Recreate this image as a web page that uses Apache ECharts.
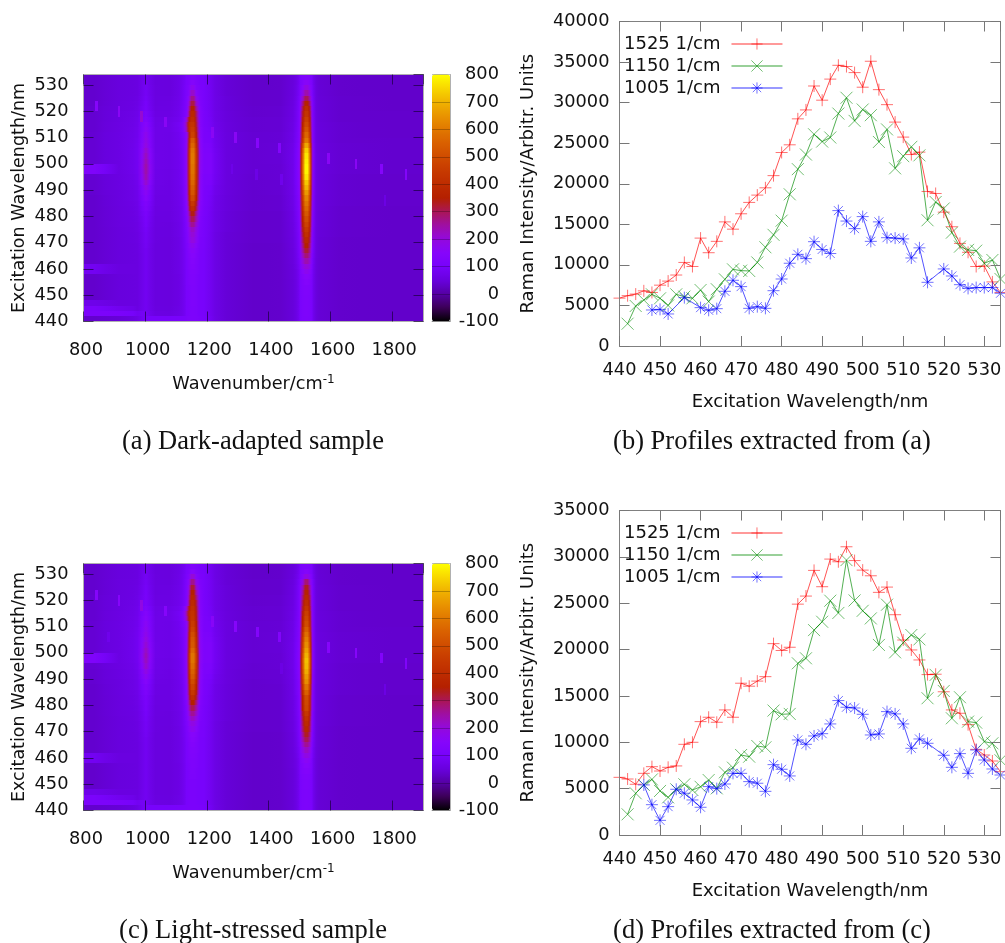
<!DOCTYPE html>
<html>
<head>
<meta charset="utf-8">
<title>Raman excitation profiles</title>
<style>
  html, body { margin: 0; padding: 0; background: #fff; }
  #main { width: 1005px; height: 943px; }
</style>
<script src="https://cdn.jsdelivr.net/npm/echarts@6/dist/echarts.min.js"></script>
</head>
<body>
<div id="main"></div>
<script>
// profile data (b) and (d)
const profileNm = [440,442,444,446,448,450,452,454,456,458,460,462,464,466,468,470,472,474,476,478,480,482,484,486,488,490,492,494,496,498,500,502,504,506,508,510,512,514,516,518,520,522,524,526,528,530,532,534];
const red1525b = [5900,6200,6400,6800,6600,7500,8000,8750,10300,9800,13300,11500,12900,15300,14400,16300,17700,18600,19500,21000,23850,24800,28000,29100,32050,30300,32900,34600,34450,33700,31900,35100,31600,29750,27600,25750,23600,23900,19050,18800,16500,14700,12650,11550,9800,9850,7900,6600];
const green1150b = [null,2750,4930,5670,6370,5880,5000,6370,6080,5880,6900,5470,7000,8220,9450,9290,9250,10300,12170,13700,15450,18700,21800,23600,26100,25200,25700,28650,30600,27750,29150,28450,25150,26700,21900,23400,24550,23500,15500,17750,16950,13970,12250,11850,11750,10200,10600,8260];
const blue1005b = [null,null,null,null,4440,4520,3950,null,5960,null,4730,4400,4600,6740,8100,7320,4640,4850,4640,6820,8260,10200,11300,10770,12860,11900,11400,16690,15400,14470,15950,12900,15300,13350,13300,13200,10850,12100,7850,null,9500,8630,7560,7100,7200,7200,7200,6500];
const red1525d = [6220,6040,5470,6650,7370,6900,7300,7450,9780,10000,12230,12700,12160,13490,12700,16370,16050,16600,17080,20640,19900,20250,24900,25770,28540,26780,29760,29470,31090,29600,28570,27960,26170,26740,23760,21030,19960,18880,17300,17340,15450,13490,13130,11900,9240,8630,7980,6830];
const green1150d = [null,2230,4500,5400,6000,4750,4060,4930,5470,4850,5200,5930,5030,6760,7260,8630,8450,9600,9460,13420,13020,13060,18520,19060,22100,23000,25270,23950,29650,25300,24180,23360,20500,24840,19700,20740,21570,21100,14750,17270,15540,12590,14860,12230,12120,10070,9890,8060];
const blue1005d = [null,null,null,5400,3270,1580,3060,4930,4500,3780,2990,5220,5000,5500,6650,6650,5760,5580,4710,7590,7090,6370,10250,9780,10680,10930,11980,14500,13780,13700,13020,10790,10900,13310,13060,11980,9350,10360,9890,null,8600,7300,8780,6650,9170,8090,7120,6470];
const seriesNames = ['1525 1/cm', '1150 1/cm', '1005 1/cm'];
const seriesColors = ['#ff0000', '#008a00', '#0000ff'];

// heat map cells: column edges in 1/cm, row start wavelengths in nm (each row spans 2 nm)
const columnEdges = [800,870,960,990,1015,1050,1110,1128,1138,1146,1154,1162,1170,1180,1200,1225,1300,1400,1480,1498,1506,1514,1522,1530,1538,1546,1565,1700,1903];
const rowNm = [440,442,444,446,448,450,452,454,456,458,460,462,464,466,468,470,472,474,476,478,480,482,484,486,488,490,492,494,496,498,500,502,504,506,508,510,512,514,516,518,520,522,524,526,528,530,532];

const heatA = [
  [36,45,65,100,100,100,105,110,115,118,118,115,110,105,85,46,34,36,60,103,113,118,118,114,104,52,36,34],
  [115,110,85,90,60,57,72,102,112,118,118,113,104,100,80,46,34,36,60,103,113,120,120,114,104,52,36,34],
  [110,80,60,85,55,54,72,102,112,118,118,113,104,100,80,46,34,36,60,103,113,120,120,114,104,52,36,34],
  [70,55,57,85,53,52,72,102,112,120,120,113,104,100,80,46,34,36,60,103,113,120,120,114,104,52,36,34],
  [36,50,55,85,53,52,72,102,112,120,120,113,104,100,80,46,34,36,60,103,113,122,122,115,104,52,36,34],
  [36,50,55,85,53,52,72,102,112,120,120,113,104,100,80,46,34,36,60,104,116,125,125,118,105,52,36,34],
  [36,50,55,85,53,52,72,102,112,120,120,113,104,100,80,46,34,36,60,105,120,130,130,121,106,52,36,34],
  [36,50,55,85,53,52,72,103,115,125,125,116,105,100,80,46,34,36,60,106,126,140,140,128,108,52,36,34],
  [36,50,55,85,53,52,72,103,115,125,125,116,105,100,80,46,34,36,62,108,132,150,150,135,110,52,36,34],
  [85,55,55,85,53,52,74,104,118,130,130,120,106,100,80,46,34,36,62,110,145,170,170,149,114,52,36,34],
  [85,55,55,85,53,52,74,105,120,135,135,122,107,100,80,46,34,36,65,115,165,200,200,170,120,54,36,34],
  [38,50,55,85,53,52,74,105,124,140,140,126,108,100,80,46,34,36,68,121,191,240,240,198,128,54,36,34],
  [38,50,55,85,53,52,74,106,127,145,145,130,109,100,80,46,34,36,70,127,217,280,280,226,136,55,36,34],
  [38,50,57,85,53,52,74,108,134,155,155,136,111,100,80,46,34,36,72,133,243,320,320,254,144,55,36,34],
  [38,50,57,88,53,52,76,110,142,170,170,145,114,102,82,46,34,36,74,138,262,350,350,275,150,55,36,34],
  [38,50,59,90,55,52,76,114,157,195,195,162,119,102,82,46,36,38,76,142,282,380,380,296,156,56,36,34],
  [38,50,59,92,55,54,78,116,165,205,205,170,122,104,82,46,36,38,78,146,301,410,410,317,162,56,38,34],
  [38,50,61,95,55,54,79,118,172,220,220,178,124,104,84,48,36,38,80,151,321,440,440,338,168,56,38,34],
  [38,52,61,100,57,54,79,124,196,260,260,204,132,105,84,48,36,38,82,155,340,470,470,359,174,58,38,34],
  [38,52,63,105,57,56,80,130,220,300,300,230,140,105,85,48,36,38,85,160,360,500,500,380,180,58,38,34],
  [38,52,65,110,59,56,82,136,244,340,340,256,148,108,85,48,36,38,86,165,380,530,530,401,186,58,38,34],
  [38,52,67,120,59,58,82,145,280,400,400,295,160,108,86,50,38,40,88,169,399,560,560,422,192,60,38,34],
  [38,54,69,130,61,58,84,152,304,440,440,322,168,110,88,50,38,40,90,174,418,590,590,443,198,60,40,36],
  [38,54,71,145,61,60,84,158,334,490,490,353,178,112,90,50,38,40,92,178,438,620,620,464,204,60,40,36],
  [40,54,73,160,63,60,86,163,352,520,520,373,184,112,95,52,38,42,95,184,464,660,660,492,212,62,40,36],
  [40,56,75,185,65,62,86,166,364,540,540,386,188,114,100,52,40,42,95,190,490,700,700,520,220,62,40,36],
  [40,56,77,215,67,62,88,170,376,560,560,400,192,115,110,52,40,42,98,195,510,730,730,541,226,62,40,36],
  [42,58,80,240,69,64,89,172,388,580,580,412,196,115,115,54,40,44,100,200,535,770,770,569,234,64,40,36],
  [125,60,83,250,70,64,89,174,394,590,590,418,198,120,120,54,42,44,100,204,549,790,790,583,238,64,42,38],
  [125,60,85,250,71,66,90,174,394,590,590,418,198,120,120,54,42,44,100,204,549,790,790,583,238,64,42,38],
  [42,60,85,240,71,66,90,175,400,600,600,425,200,120,120,54,42,46,100,202,542,780,780,576,236,64,42,38],
  [42,60,85,230,71,66,92,175,400,600,600,425,200,120,120,54,42,46,100,200,535,770,770,569,234,64,42,38],
  [42,60,85,215,70,66,92,174,394,590,590,418,198,118,115,54,42,46,98,196,516,740,740,548,228,62,42,38],
  [42,60,83,195,70,66,94,170,376,560,560,400,192,115,110,54,42,46,95,188,480,680,680,506,216,62,42,38],
  [42,60,81,185,69,66,94,166,358,530,530,380,186,112,105,54,42,44,90,175,425,600,600,450,200,60,40,38],
  [42,60,79,175,69,66,96,165,330,470,470,340,174,112,100,54,42,44,88,169,399,560,560,422,192,60,40,36],
  [40,58,77,160,69,68,104,235,390,450,450,325,170,110,95,52,40,42,86,163,372,520,520,394,184,60,40,36],
  [40,58,75,150,67,68,108,250,395,430,430,310,166,108,90,52,40,42,85,158,353,490,490,373,178,58,40,36],
  [40,56,73,130,65,66,95,210,345,400,400,295,160,108,88,50,40,42,82,154,334,460,460,352,172,58,38,36],
  [40,56,70,115,61,62,90,135,275,380,380,282,156,106,86,50,38,40,80,150,315,430,430,331,166,58,38,36],
  [40,54,67,105,59,60,88,130,245,350,350,250,150,105,85,48,38,40,78,145,295,400,400,310,160,56,38,34],
  [38,54,63,100,57,58,86,125,205,310,310,210,140,105,85,48,36,38,75,138,260,360,360,272,150,56,38,34],
  [38,52,61,95,57,56,85,120,170,265,265,175,130,104,84,48,36,38,72,130,215,300,300,225,138,55,38,34],
  [38,52,59,90,55,54,84,115,145,215,215,150,122,104,84,46,36,38,68,120,175,240,240,182,128,55,36,34],
  [38,50,57,88,55,52,82,110,128,170,170,130,114,102,82,46,34,36,64,112,145,190,190,148,118,54,36,34],
  [38,50,57,85,53,52,80,106,118,140,140,120,108,100,80,46,34,36,62,108,128,155,155,130,112,52,36,34],
  [38,50,55,85,53,52,74,103,110,122,122,112,104,100,80,46,34,36,60,104,114,125,125,115,105,52,36,34]
];

const heatC = [
  [36,45,63,100,100,100,105,108,112,112,112,110,108,105,85,46,34,36,60,103,113,118,118,114,104,52,36,34],
  [115,110,85,90,60,57,72,100,108,112,112,108,102,100,80,46,34,36,60,103,113,118,118,114,104,52,36,34],
  [110,80,60,85,55,54,72,100,108,112,112,108,102,100,80,46,34,36,60,103,113,118,118,114,104,52,36,34],
  [70,55,57,85,53,52,72,100,108,112,112,108,102,100,80,46,34,36,60,103,113,118,118,114,104,52,36,34],
  [36,50,55,85,53,52,72,100,108,112,112,108,102,100,80,46,34,36,60,103,113,120,120,114,104,52,36,34],
  [36,50,55,85,53,52,72,100,108,112,112,108,102,100,80,46,34,36,60,103,114,122,122,115,104,52,36,34],
  [36,50,55,85,53,52,72,100,110,115,115,110,102,100,80,46,34,36,60,104,118,125,125,118,105,52,36,34],
  [36,50,55,85,53,52,72,100,110,118,118,112,103,100,80,46,34,36,60,106,124,135,135,126,107,52,36,34],
  [36,50,55,85,53,52,72,101,112,120,120,114,104,100,80,46,34,36,62,107,130,145,145,132,109,52,36,34],
  [85,55,55,85,53,52,74,102,114,122,122,116,105,100,80,46,34,36,62,109,139,160,160,142,112,52,36,34],
  [85,55,55,85,53,52,74,103,115,125,125,118,105,100,80,46,34,36,64,113,158,190,190,163,118,54,36,34],
  [38,50,55,85,53,52,74,103,117,130,130,120,106,100,80,46,34,36,66,118,178,220,220,184,124,54,36,34],
  [38,50,55,85,53,52,74,104,120,135,135,122,107,100,80,46,34,36,68,124,204,260,260,212,132,55,36,34],
  [38,50,57,85,53,52,74,105,125,142,142,128,108,100,80,46,34,36,70,130,230,300,300,240,140,55,36,34],
  [38,50,57,88,53,52,76,107,130,150,150,135,110,102,82,46,34,36,72,135,250,330,330,261,146,55,36,34],
  [38,50,59,90,55,52,76,110,142,170,170,149,114,102,82,46,36,38,75,140,276,370,370,289,154,56,36,34],
  [38,50,59,92,55,54,78,114,154,190,190,163,118,104,82,46,36,38,76,144,289,390,390,303,158,56,38,34],
  [38,50,61,95,55,54,79,118,172,220,220,184,124,104,84,48,36,38,78,146,301,410,410,317,162,56,38,34],
  [38,52,61,98,57,54,79,124,196,260,260,212,132,104,84,48,36,38,80,151,321,440,440,338,168,56,38,34],
  [38,52,63,102,57,56,80,130,220,300,300,240,140,105,85,48,36,38,82,157,347,480,480,366,176,58,38,34],
  [38,52,65,106,59,56,82,137,250,350,350,275,150,108,85,48,36,38,82,159,354,490,490,373,178,58,38,34],
  [38,52,67,112,59,58,82,145,280,400,400,310,160,108,86,50,38,40,85,160,360,500,500,380,180,60,38,34],
  [38,54,69,120,61,58,84,150,304,440,440,338,168,110,88,50,38,40,88,169,392,550,550,415,190,60,40,36],
  [38,54,71,130,61,60,84,155,322,470,470,359,174,112,90,50,38,40,90,174,418,590,590,443,198,60,40,36],
  [40,54,73,145,63,60,86,160,340,500,500,380,180,112,95,52,38,42,92,181,451,640,640,478,208,62,40,36],
  [40,56,75,165,65,62,86,164,358,530,530,401,186,114,100,52,40,42,94,184,464,660,660,492,212,62,40,36],
  [40,56,77,190,67,62,88,168,370,550,550,415,190,115,110,52,40,42,96,188,484,690,690,513,218,62,40,36],
  [42,58,80,215,69,64,89,170,382,570,570,429,194,115,115,54,40,44,98,192,496,710,710,527,222,64,40,36],
  [125,60,83,230,70,64,89,172,394,590,590,443,198,120,120,54,42,44,100,194,502,720,720,534,224,64,42,38],
  [125,60,85,235,71,66,90,172,394,590,590,443,198,120,120,54,42,44,100,190,490,700,700,520,220,64,42,38],
  [42,60,85,225,71,66,90,168,376,560,560,422,192,120,120,54,42,46,98,185,470,670,670,499,214,64,42,38],
  [42,60,85,210,71,66,92,165,358,530,530,401,186,120,120,54,42,46,96,181,451,640,640,478,208,64,42,38],
  [42,60,85,195,70,66,92,163,352,520,520,394,184,118,115,54,42,46,94,177,432,610,610,457,202,62,42,38],
  [42,60,83,180,70,66,94,160,340,500,500,380,180,115,110,54,42,46,92,172,412,580,580,436,196,62,42,38],
  [42,60,81,170,69,66,94,155,322,470,470,359,174,112,105,54,42,44,90,166,386,540,540,408,188,60,40,38],
  [42,60,79,160,69,66,96,160,310,450,450,345,170,112,100,54,42,44,88,160,360,500,500,380,180,60,40,36],
  [40,58,77,150,69,68,104,230,360,430,430,331,166,110,95,52,40,42,86,157,347,480,480,366,176,60,40,36],
  [40,58,75,140,67,68,108,250,380,420,420,324,164,108,90,52,40,42,84,154,334,460,460,352,172,58,40,36],
  [40,56,73,125,65,66,95,210,340,410,410,317,162,108,88,50,40,42,82,150,314,430,430,331,166,58,38,36],
  [40,56,70,112,61,62,86,135,274,390,390,303,158,106,86,50,38,40,80,145,295,400,400,310,160,58,38,36],
  [40,54,67,104,59,60,84,130,250,370,370,270,154,105,85,48,38,40,78,142,270,380,380,285,156,56,38,34],
  [38,54,63,100,57,58,82,127,225,350,350,240,150,105,85,48,36,38,76,139,250,360,360,262,152,56,38,34],
  [38,52,61,95,57,56,80,124,195,320,320,205,140,104,84,48,36,38,74,132,225,330,330,235,146,55,38,34],
  [38,52,59,90,55,54,79,118,165,265,265,175,130,104,84,46,36,38,70,122,185,280,280,192,136,55,36,34],
  [38,50,57,88,55,52,78,112,135,205,205,142,119,102,82,46,34,36,65,110,140,190,190,145,118,54,36,34],
  [38,50,57,85,53,52,76,104,118,148,148,122,110,100,80,46,34,36,62,105,120,140,140,122,108,52,36,34],
  [38,50,55,85,53,52,74,103,112,125,125,114,105,100,80,46,34,36,60,103,113,120,120,114,104,52,36,34]
];

// isolated spikes: wavenumber, wavelength, level
const spikesA = [[843,522,150],[915,520,160],[987,518,210],[1066,516,160],[1218,512,160],[1292,510,160],[1364,508,150],[1437,506,140],[1596,502,160],[1684,500,160],[1766,498,145],[1846,496,140],[1778,486,62],[1443,494,75],[1362,496,65],[1282,498,70]];
const spikesC = [[843,522,145],[915,520,150],[987,518,190],[1066,516,150],[1218,512,155],[1292,510,150],[1364,508,140],[1437,506,135],[1596,502,150],[1684,500,150],[1766,498,135],[1846,496,130],[1778,486,62],[1443,494,62],[880,506,75]];

// gnuplot rgbformulae 7,5,15 sampled every 50 units from -100 to 800
const paletteStops = ['#000000','#3c0057','#5500a4','#6801dd','#7803fb','#8605fb','#9309dd','#9f0fa4','#aa1657','#b42000','#be2c00','#c73a00','#d04c00','#d96000','#e17800','#e99400','#f0b300','#f8d700','#ffff00'];

const SPIKE_W = 4.5, SPIKE_H = 2;
const FONT = 'DejaVu Sans';
const TEXT = '#111';

function levelColor(v) {
  return echarts.color.lerp((v + 100) / 900, paletteStops);
}

// each cell also carries the levels at its left and right edge, so the fill blends across columns
function heatCells(matrix, spikes) {
  const cells = [];
  rowNm.forEach((nm, r) => {
    const row = matrix[r];
    row.forEach((v, c) => {
      const l = c > 0 ? (row[c - 1] + v) / 2 : v;
      const e = c < row.length - 1 ? (row[c + 1] + v) / 2 : v;
      cells.push([columnEdges[c], columnEdges[c + 1], nm, nm + 2, v, l, e]);
    });
  });
  spikes.forEach(s => {
    cells.push([s[0] - SPIKE_W, s[0] + SPIKE_W, s[1] - SPIKE_H, s[1] + SPIKE_H, s[2], s[2], s[2]]);
  });
  return cells;
}

function renderCell(params, api) {
  const a = api.coord([api.value(0), api.value(3)]);
  const b = api.coord([api.value(1), api.value(2)]);
  const x0 = Math.round(a[0]), x1 = Math.round(b[0]);
  const y0 = Math.round(a[1]), y1 = Math.round(b[1]);
  return {
    type: 'rect',
    shape: { x: x0, y: y0, width: Math.max(x1 - x0, 1), height: Math.max(y1 - y0, 1) },
    style: {
      fill: new echarts.graphic.LinearGradient(0, 0, 1, 0, [
        { offset: 0, color: levelColor(api.value(5)) },
        { offset: 0.5, color: api.visual('color') },
        { offset: 1, color: levelColor(api.value(6)) }
      ])
    }
  };
}

// panel frames
const heatBoxes = [
  { left: 83.5, top: 74.5, width: 340, height: 247 },
  { left: 83.5, top: 563.5, width: 340, height: 247 }
];
const barBoxes = [
  { left: 432, top: 74.5, width: 18, height: 247 },
  { left: 432, top: 563.5, width: 18, height: 247 }
];
const profileBoxes = [
  { left: 619.5, top: 21.5, width: 381, height: 324.5 },
  { left: 619.5, top: 510.5, width: 381, height: 324.5 }
];
const legendTops = [35, 524];

const plainNumber = v => String(v);

const option = {
  animation: false,
  backgroundColor: '#fff',
  textStyle: { fontFamily: FONT },
  grid: [],
  xAxis: [],
  yAxis: [],
  series: [],
  visualMap: [],
  legend: [],
  title: [
    ['(a) Dark-adapted sample', 253, 429],
    ['(b) Profiles extracted from (a)', 772, 429],
    ['(c) Light-stressed sample', 253, 918],
    ['(d) Profiles extracted from (c)', 772, 918]
  ].map(t => ({
    text: t[0], left: t[1], top: t[2], textAlign: 'center', padding: 0,
    textStyle: { fontFamily: 'Liberation Serif', fontSize: 26.5, fontWeight: 'normal', color: '#111' }
  }))
};

function addAxes(gridIndex, xCfg, yCfg) {
  const x = option.xAxis, y = option.yAxis;
  const line = { show: true, onZero: false, lineStyle: { color: xCfg.border, width: 1 } };
  const tick = { show: true, inside: true, length: 10, lineStyle: { color: xCfg.tick, width: 1 } };
  const base = { gridIndex, type: 'value', splitLine: { show: false }, axisLine: line, axisTick: tick, z: 10 };
  const xi = x.length;
  const yi = y.length;
  x.push(Object.assign({}, base, {
    position: 'bottom', min: xCfg.min, max: xCfg.max, interval: xCfg.interval,
    name: xCfg.name, nameLocation: 'middle', nameGap: xCfg.nameGap, nameTextStyle: xCfg.nameStyle,
    axisLabel: { show: true, fontSize: 17.8, color: TEXT, margin: xCfg.labelMargin, showMaxLabel: false, padding: xCfg.labelPad, formatter: plainNumber }
  }));
  x.push(Object.assign({}, base, {
    position: 'top', min: xCfg.min, max: xCfg.max, interval: xCfg.interval, axisLabel: { show: false }
  }));
  y.push(Object.assign({}, base, {
    position: 'left', min: yCfg.min, max: yCfg.max, interval: yCfg.interval,
    name: yCfg.name, nameLocation: 'middle', nameGap: yCfg.nameGap,
    nameTextStyle: { fontSize: yCfg.nameSize, color: TEXT },
    axisLabel: { show: true, fontSize: 17.8, color: TEXT, margin: yCfg.margin, showMaxLabel: yCfg.showMax, formatter: plainNumber }
  }));
  y.push(Object.assign({}, base, {
    position: 'right', min: yCfg.min, max: yCfg.max, interval: yCfg.interval, axisLabel: { show: false }
  }));
  return [xi, yi];
}

function addHeatPanel(idx, matrix, spikes) {
  const g = option.grid.length;
  option.grid.push(heatBoxes[idx]);
  const [xi, yi] = addAxes(g, {
    min: 800, max: 1903, interval: 200,
    border: '#b0b0b0', tick: 'rgba(20,0,50,0.65)',
    name: '{b|Wavenumber/cm}{s|-1}', nameGap: 52, labelPad: [0, 0, 0, 5], labelMargin: 20,
    nameStyle: { rich: {
      b: { fontSize: 17.7, color: TEXT, fontFamily: FONT },
      s: { fontSize: 12, color: TEXT, fontFamily: FONT, padding: [0, 0, 9, 0] }
    } }
  }, {
    min: 440, max: 534, interval: 10, name: 'Excitation Wavelength/nm', nameSize: 17.5, nameGap: 55, margin: 15, showMax: false
  });
  const seriesIndex = option.series.length;
  option.series.push({
    type: 'custom', xAxisIndex: xi, yAxisIndex: yi, clip: true, silent: true,
    renderItem: renderCell,
    encode: { x: [0, 1], y: [2, 3] },
    data: heatCells(matrix, spikes)
  });
  // colour box + its own value axis for the labels
  const b = barBoxes[idx];
  option.visualMap.push({
    type: 'continuous', seriesIndex, dimension: 4, min: -100, max: 800,
    left: b.left, top: b.top, itemWidth: b.width, itemHeight: b.height, padding: 0,
    calculable: false, showLabel: false, text: null, hoverLink: false,
    inRange: { color: paletteStops }
  });
  const gb = option.grid.length;
  option.grid.push(b);
  option.xAxis.push({ gridIndex: gb, type: 'value', min: 0, max: 1, axisLabel: { show: false }, axisTick: { show: false }, splitLine: { show: false }, axisLine: { show: true, onZero: false, lineStyle: { color: '#b0b0b0' } }, z: 10 });
  option.yAxis.push({
    gridIndex: gb, type: 'value', position: 'right', min: -100, max: 800, interval: 100,
    splitLine: { show: false }, z: 10,
    axisLine: { show: true, onZero: false, lineStyle: { color: '#b0b0b0' } },
    axisTick: { show: true, inside: true, length: 18, lineStyle: { color: 'rgba(0,0,0,0.25)', width: 1 } },
    axisLabel: { show: true, fontSize: 17.8, color: TEXT, margin: 49, align: 'right' }
  });
}

const plusPath = 'path://M6,0L6,12M0,6L12,6';
const crossPath = 'path://M0,0L12,12M0,12L12,0';
const starPath = 'path://M6,0L6,12M0,6L12,6M1.5,1.5L10.5,10.5M1.5,10.5L10.5,1.5';

function lineSeries(name, values, color, symbol, xi, yi) {
  return {
    type: 'line', name, xAxisIndex: xi, yAxisIndex: yi,
    data: values.map((v, i) => [profileNm[i], v]),
    connectNulls: true, clip: true, silent: true,
    color,
    symbol, symbolSize: 12, showSymbol: true,
    lineStyle: { color, width: 0.8, opacity: 0.85 },
    itemStyle: { color, borderColor: color, borderWidth: 0.7, opacity: 0.8 }
  };
}

function addProfilePanel(idx, yMax, red, green, blue) {
  const g = option.grid.length;
  const box = profileBoxes[idx];
  option.grid.push(box);
  const [xi, yi] = addAxes(g, {
    min: 440, max: 534, interval: 10,
    border: '#808080', tick: '#777',
    name: 'Excitation Wavelength/nm', nameGap: 47, labelPad: 0, labelMargin: 15,
    nameStyle: { fontSize: 18, color: TEXT }
  }, {
    min: 0, max: yMax, interval: 5000, name: 'Raman Intensity/Arbitr. Units', nameSize: 18, nameGap: 82, margin: 10, showMax: true
  });
  option.series.push(
    lineSeries(seriesNames[0], red, seriesColors[0], plusPath, xi, yi),
    lineSeries(seriesNames[1], green, seriesColors[1], crossPath, xi, yi),
    lineSeries(seriesNames[2], blue, seriesColors[2], starPath, xi, yi)
  );
  option.legend.push({
    data: seriesNames.map((name, i) => ({
      name,
      lineStyle: { color: seriesColors[i], width: 1, opacity: 0.8 },
      itemStyle: { color: seriesColors[i], borderColor: seriesColors[i], borderWidth: 0.7, opacity: 0.8 }
    })),
    orient: 'vertical', left: 624, top: legendTops[idx], padding: 0,
    align: 'right', itemWidth: 51, itemHeight: 14, itemGap: 4, selectedMode: false,
    textStyle: { fontSize: 18, color: TEXT, fontFamily: FONT, padding: [0, 6, 0, 0] }
  });
}

addHeatPanel(0, heatA, spikesA);
addProfilePanel(0, 40000, red1525b, green1150b, blue1005b);
addHeatPanel(1, heatC, spikesC);
addProfilePanel(1, 35000, red1525d, green1150d, blue1005d);

const chart = echarts.init(document.getElementById('main'), null, { renderer: 'canvas' });
chart.setOption(option);
</script>
</body>
</html>
